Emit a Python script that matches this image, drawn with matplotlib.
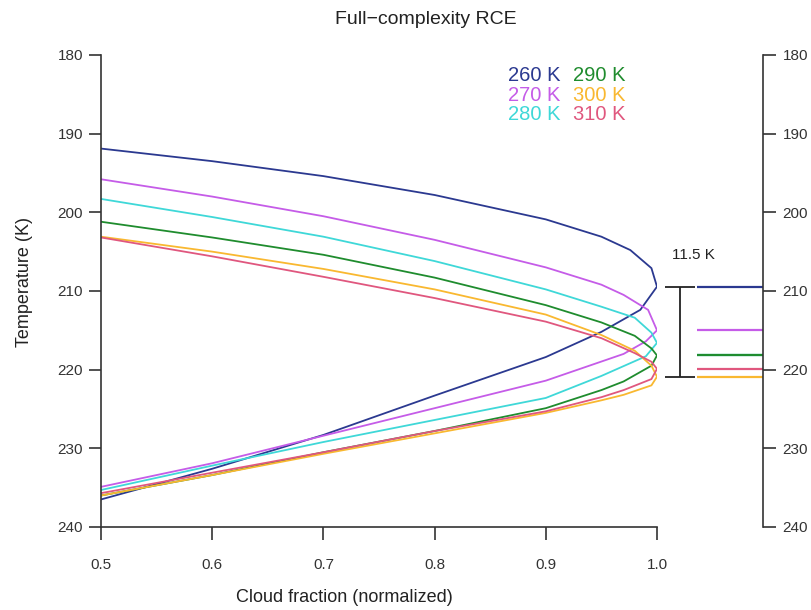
import matplotlib
matplotlib.use('Agg')
import matplotlib.pyplot as plt

plt.rcParams['font.family'] = ['Liberation Sans', 'DejaVu Sans']

# surface temperatures and their colours
labels = ['260 K', '270 K', '280 K', '290 K', '300 K', '310 K']
colors = ['#2b3990', '#c55ce8', '#3fd8d8', '#1f8c2e', '#f9b830', '#e0577e']

# cloud fraction (normalized) vs temperature profiles
cf_260 = [0.5, 0.6, 0.7, 0.8, 0.9, 0.95, 0.976, 0.995, 1.0, 0.985, 0.95, 0.9, 0.8, 0.7, 0.6, 0.5]
T_260 = [191.9, 193.5, 195.4, 197.8, 200.9, 203.1, 204.8, 207.1, 209.45, 212.4, 215.2, 218.4, 223.3, 228.3, 232.6, 236.5]

cf_270 = [0.5, 0.6, 0.7, 0.8, 0.9, 0.95, 0.97, 0.992, 1.0, 0.99, 0.97, 0.9, 0.8, 0.7, 0.6, 0.5]
T_270 = [195.8, 198.0, 200.5, 203.5, 207.0, 209.2, 210.5, 212.4, 215.0, 216.4, 218.0, 221.4, 224.9, 228.4, 231.9, 234.9]

cf_280 = [0.5, 0.6, 0.7, 0.8, 0.9, 0.95, 0.98, 0.995, 1.0, 0.99, 0.95, 0.9, 0.8, 0.7, 0.6, 0.5]
T_280 = [198.3, 200.6, 203.1, 206.2, 209.8, 212.0, 213.4, 215.3, 216.6, 218.3, 220.8, 223.6, 226.4, 229.2, 232.2, 235.3]

cf_290 = [0.5, 0.6, 0.7, 0.8, 0.9, 0.95, 0.98, 0.995, 1.0, 0.995, 0.97, 0.95, 0.9, 0.8, 0.7, 0.6, 0.5]
T_290 = [201.2, 203.2, 205.4, 208.3, 211.8, 214.0, 215.7, 217.3, 218.2, 219.5, 221.5, 222.6, 224.9, 227.8, 230.5, 233.4, 236.0]

cf_300 = [0.5, 0.6, 0.7, 0.8, 0.9, 0.95, 0.98, 0.995, 1.0, 0.995, 0.97, 0.95, 0.9, 0.8, 0.7, 0.6, 0.5]
T_300 = [203.1, 205.0, 207.2, 209.8, 213.0, 215.6, 217.6, 219.5, 220.9, 222.0, 223.2, 223.9, 225.5, 228.1, 230.7, 233.4, 236.0]

cf_310 = [0.5, 0.6, 0.7, 0.8, 0.9, 0.95, 0.98, 0.995, 1.0, 0.995, 0.97, 0.95, 0.9, 0.8, 0.7, 0.6, 0.5]
T_310 = [203.2, 205.6, 208.2, 210.9, 213.9, 216.0, 217.9, 219.0, 219.9, 221.2, 222.6, 223.5, 225.3, 227.8, 230.5, 233.1, 235.7]

profiles = [(cf_260, T_260), (cf_270, T_270), (cf_280, T_280),
            (cf_290, T_290), (cf_300, T_300), (cf_310, T_310)]

# temperature at peak cloud fraction, per curve
peak_T = [209.45, 215.0, 218.2, 218.2, 220.9, 219.9]
spread_lo, spread_hi = 209.45, 220.9
spread_text = '11.5 K'

yticks = [180, 190, 200, 210, 220, 230, 240]
xticks = [0.5, 0.6, 0.7, 0.8, 0.9, 1.0]

spine_col = '#333333'

fig = plt.figure(figsize=(8.12, 6.10), dpi=100)
ax = fig.add_axes([0.1244, 0.1361, 0.6847, 0.7738])
ax2 = fig.add_axes([0.8128, 0.1361, 0.1268, 0.7738])

for (cf, T), c in zip(profiles, colors):
    ax.plot(cf, T, color=c, lw=1.3)

ax.set_xlim(0.5, 1.0)
ax.set_ylim(240, 180)
ax.set_xticks(xticks)
ax.set_xticklabels(['%.1f' % v for v in xticks])
ax.set_yticks(yticks)
for s in ['top', 'right']:
    ax.spines[s].set_visible(False)
for s in ['left', 'bottom']:
    ax.spines[s].set_color(spine_col)
    ax.spines[s].set_linewidth(1.2)
ax.tick_params(axis='y', length=9, width=1.2, color=spine_col, pad=4, labelsize=11, labelcolor='#333333')
ax.tick_params(axis='x', length=9, width=1.2, color=spine_col, pad=13, labelsize=11, labelcolor='#333333')

ax.set_xlabel('Cloud fraction (normalized)', fontsize=13, color='#222222')
ax.xaxis.set_label_coords(0.437, -0.131)
ax.set_ylabel('Temperature (K)', fontsize=13, color='#222222')
ax.yaxis.set_label_coords(-0.122, 0.519)

fig.text(0.525, 0.968, 'Full\u2212complexity RCE', ha='center', va='center', fontsize=14, color='#222222')

# coloured legend text, two columns
leg_x = [0.866, 0.9245]
leg_y = [182.6, 185.1, 187.6]
for i, (lab, c) in enumerate(zip(labels, colors)):
    ax.text(leg_x[i // 3], leg_y[i % 3], lab, color=c, fontsize=14.5, ha='left', va='center')

# right panel: peak temperatures and their spread
ax2.set_xlim(0, 1)
ax2.set_ylim(240, 180)
for T, c in zip(peak_T, colors):
    ax2.plot([0.36, 1.0], [T, T], color=c, lw=1.6, solid_capstyle='butt')
ax2.errorbar([0.194], [(spread_lo + spread_hi) / 2], yerr=[(spread_hi - spread_lo) / 2],
             color='#222222', lw=1.3, capsize=11, capthick=1.3)
ax2.text(0.32, 205.4, spread_text, ha='center', va='center', fontsize=11, color='#222222')
for s in ['top', 'left', 'bottom']:
    ax2.spines[s].set_visible(False)
ax2.spines['right'].set_color(spine_col)
ax2.spines['right'].set_linewidth(1.2)
ax2.set_xticks([])
ax2.set_yticks(yticks)
ax2.yaxis.tick_right()
ax2.tick_params(axis='y', length=9, width=1.2, color=spine_col, pad=5, labelsize=11, labelcolor='#333333')

fig.savefig('out.png', dpi=100)
